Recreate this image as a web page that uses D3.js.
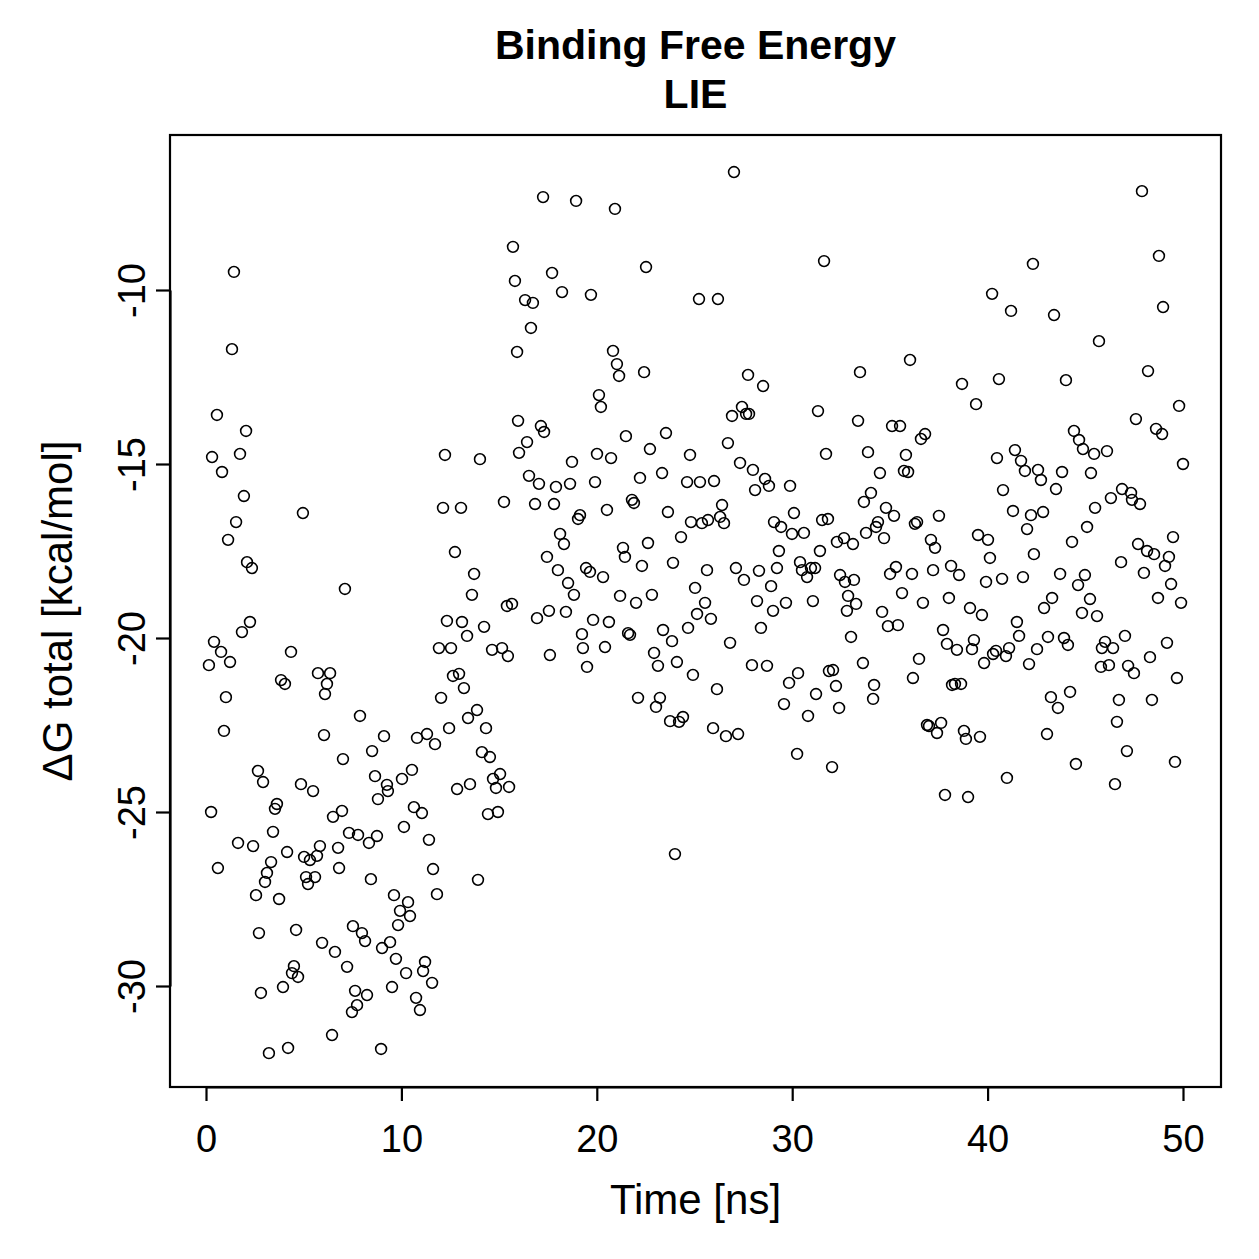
<!DOCTYPE html>
<html>
<head>
<meta charset="utf-8">
<script src="https://cdn.jsdelivr.net/npm/d3@7"></script>
<style>
  html, body { margin: 0; padding: 0; background: #fff; }
  svg { display: block; }
  text { font-family: "Liberation Sans", Arial, Helvetica, sans-serif; fill: #000; }
</style>
</head>
<body>
<svg id="chart" width="1259" height="1259"></svg>
<script>
// ---- data ----
const titleLines = ["Binding Free Energy", "LIE"];
const xLabel = "Time [ns]";
const yLabel = "\u0394G total [kcal/mol]";
const xTicks = [0, 10, 20, 30, 40, 50];
const yTicks = [-30, -25, -20, -15, -10];

const time = [
  0.15,0.26,0.31,0.41,0.56,0.61,0.77,0.82,0.92,1.02,
  1.13,1.23,1.33,1.43,1.54,1.64,1.74,1.84,1.94,2.05,
  2.10,2.25,2.35,2.41,2.56,2.66,2.71,2.81,2.92,3.02,
  3.12,3.22,3.33,3.43,3.53,3.63,3.74,3.84,3.94,4.04,
  4.15,4.20,4.35,4.40,4.50,4.61,4.71,4.86,4.96,5.02,
  5.12,5.22,5.32,5.48,5.58,5.68,5.73,5.83,5.94,6.04,
  6.09,6.19,6.35,6.45,6.50,6.60,6.76,6.81,6.96,7.01,
  7.11,7.22,7.32,7.47,7.52,7.63,7.73,7.78,7.88,
  7.98,8.14,8.24,8.34,8.44,8.50,8.65,8.75,8.80,8.96,
  9.01,9.11,9.26,9.31,9.42,9.52,9.62,9.72,9.83,9.93,
  10.03,10.13,10.24,10.34,10.44,10.54,10.64,10.75,10.80,10.95,
  11.05,11.11,11.21,11.31,11.41,11.57,11.62,11.72,11.82,11.92,
  12.03,12.13,12.23,12.33,12.44,12.54,12.64,12.74,12.85,12.95,
  13.05,13.10,13.20,13.36,13.41,13.51,13.61,13.72,13.87,13.92,
  14.02,14.12,14.23,14.33,14.43,14.53,14.64,14.69,14.84,14.94,
  15.05,15.15,15.25,15.40,15.45,15.51,15.66,15.71,15.81,15.92,
  15.97,16.02,
  16.33,16.43,16.53,16.63,16.73,16.84,16.94,17.04,17.14,17.25,
  17.30,17.45,17.55,17.60,17.71,17.81,17.91,18.01,18.12,18.22,
  18.32,18.42,18.53,18.63,18.73,18.83,18.94,19.04,19.14,19.24,
  19.29,19.45,19.50,19.65,19.70,19.81,19.91,20.01,20.11,20.21,
  20.32,20.42,20.52,20.62,20.73,20.83,20.93,21.03,21.14,21.19,
  21.34,21.44,21.49,21.60,21.70,21.80,21.90,22.01,22.11,22.21,
  22.31,22.42,22.52,22.62,22.72,22.82,22.93,23.03,23.13,23.23,
  23.34,23.39,23.54,23.64,23.75,23.85,23.90,24.00,24.10,24.21,
  24.31,24.41,24.62,24.67,24.77,24.82,24.92,25.03,25.13,25.23,
  25.28,25.38,25.54,25.64,25.69,25.84,25.95,26.00,26.15,26.20,
  26.31,26.41,26.51,26.61,26.71,26.82,26.92,27.02,27.12,27.23,
  27.33,27.43,27.53,27.64,27.74,27.79,27.94,27.99,28.10,28.20,
  28.30,28.40,28.51,28.61,28.71,28.81,28.92,29.02,29.07,29.22,
  29.32,29.43,29.58,29.68,29.84,29.89,29.99,30.09,30.25,30.30,
  30.40,30.50,30.60,30.76,30.81,30.96,31.06,31.17,31.22,31.32,
  31.42,31.53,31.63,31.73,31.83,31.88,32.04,32.09,32.24,32.29,
  32.40,32.45,32.65,32.70,32.80,32.86,33.01,33.11,33.16,
  33.27,33.37,33.47,
  33.62,33.67,33.78,33.88,34.03,34.14,34.19,34.29,34.39,34.49,
  34.60,34.70,34.80,34.90,35.01,35.11,35.21,35.31,35.41,35.52,
  35.62,35.72,35.82,35.93,36.03,36.13,36.18,36.28,36.39,36.49,
  36.59,36.69,36.80,36.90,37.00,37.10,37.21,37.31,37.41,37.51,
  37.62,37.72,37.82,37.92,38.02,38.13,38.18,38.33,38.43,38.54,
  38.64,38.69,38.79,38.89,39.00,39.10,39.20,39.30,39.41,39.51,
  39.61,39.71,39.82,39.92,40.02,40.12,40.23,40.28,40.43,40.48,
  40.58,40.74,40.79,40.94,40.99,41.10,41.20,41.30,41.40,
  41.50,41.61,41.71,
  41.81,41.91,42.02,42.12,42.22,42.32,42.37,42.53,42.58,42.73,
  42.84,42.89,43.04,43.09,43.24,43.30,43.40,43.50,43.60,43.71,
  43.81,43.91,44.01,44.11,44.22,44.32,44.42,44.52,44.63,44.68,
  44.83,44.88,44.98,45.09,45.24,45.29,45.45,45.50,45.60,45.70,
  45.80,45.85,46.01,46.11,46.21,46.31,46.42,46.52,46.62,46.72,
  46.83,46.88,47.03,47.13,47.19,47.34,47.39,47.49,47.59,47.70,
  47.80,47.90,48.00,48.16,48.21,48.31,48.41,48.52,48.62,48.72,
  48.77,48.93,48.98,49.08,49.18,49.28,49.39,49.49,49.59,49.69,
  49.80,49.90,50.00
];

const dG = [
  -20.78,-25.00,-14.80,-20.11,-13.59,-26.61,-20.40,-15.23,-22.67,-21.70,
  -17.18,-20.69,-11.70,-9.48,-16.67,-25.89,-14.71,-19.83,-15.92,-14.05,
  -17.82,-19.54,-17.99,-25.98,-27.39,-23.82,-28.48,-30.20,-24.14,-27.01,
  -26.75,-31.93,-26.44,-25.57,-24.91,-24.77,-27.50,-21.21,-30.03,-21.32,
  -26.15,-31.78,-20.40,-29.63,-29.43,-28.39,-29.74,-24.20,-16.41,-26.29,
  -26.87,-27.07,-26.38,-24.40,-26.87,-26.26,-21.01,-25.98,-28.76,-22.79,
  -21.61,-21.32,-21.01,-31.41,-25.14,-29.02,-26.03,-26.61,-24.97,-23.48,
  -18.59,-29.45,-25.60,-30.75,-28.28,-30.14,-30.55,-25.66,-22.24,
  -28.48,-28.71,-30.26,-25.89,-26.93,-23.25,-23.97,-25.69,-24.63,-31.81,
  -28.91,-22.82,-24.22,-24.40,-28.74,-30.03,-27.39,-29.22,-28.25,-27.84,
  -24.05,-25.43,-29.63,-27.59,-27.99,-23.79,-24.86,-30.34,-22.87,-30.69,
  -25.03,-29.57,-29.31,-22.76,-25.80,-29.91,-26.64,-23.05,-27.36,-20.29,
  -21.72,-16.26,-14.74,-19.51,-22.59,-20.29,-21.09,-17.53,-24.34,-21.03,
  -16.26,-19.54,-21.44,-19.94,-22.30,-24.20,-18.76,-18.16,-22.07,-26.95,
  -14.86,-23.28,-19.68,-22.59,-25.06,-23.42,-20.34,-24.05,-24.31,-25.00,
  -23.91,-20.29,-16.09,-19.08,-20.52,-24.28,-19.02,-8.76,-9.74,-11.78,
  -13.76,-14.68,
  -10.29,-14.37,-15.34,-11.09,-10.37,-16.15,-19.43,-15.57,-13.91,-7.33,
  -14.08,-17.67,-19.22,-20.49,-9.51,-16.15,-15.66,-18.05,-17.01,-10.06,
  -17.30,-19.25,-18.42,-15.57,-14.94,-18.76,-7.44,-16.58,-16.47,-19.89,
  -20.29,-17.99,-20.83,-18.10,-10.14,-19.48,-15.52,-14.71,-13.02,-13.36,
  -18.25,-20.26,-16.32,-19.54,-14.83,-11.75,-7.67,-12.13,-12.47,-18.79,
  -17.41,-17.67,-14.20,-19.86,-19.91,-16.03,-16.12,-18.99,-21.72,-15.40,
  -17.93,-12.36,-9.34,-17.27,-14.57,-18.76,-20.43,-21.98,-20.80,-21.72,
  -15.26,-19.77,-14.11,-16.38,-22.39,-20.09,-17.84,-26.21,-20.69,-22.41,
  -17.10,-22.27,-15.52,-19.71,-14.74,-16.67,-21.06,-18.56,-19.31,-10.26,
  -15.52,-16.70,-18.99,-18.05,-16.61,-19.45,-22.59,-15.49,-21.47,-10.26,
  -16.52,-16.18,-16.70,-22.82,-14.40,-20.14,-13.62,-6.61,-17.99,-22.76,
  -14.97,-13.36,-18.33,-13.56,-12.44,-13.56,-20.78,-15.17,-15.75,-18.94,
  -18.07,-19.71,-12.76,-15.43,-20.80,-15.63,-18.51,-19.22,-16.67,-17.99,
  -17.50,-16.81,-21.90,-18.99,-21.29,-15.63,-17.01,-16.41,-23.33,-21.01,
  -17.82,-18.05,-16.98,-18.25,-22.24,-17.99,-18.94,-17.99,-21.61,-13.48,
  -17.50,-16.61,-9.17,-14.71,-16.58,-20.95,-23.71,-20.92,-21.38,-17.24,
  -22.01,-18.19,-17.13,-18.39,-19.22,-18.79,-19.97,-17.30,-18.33,
  -19.02,-13.76,-12.36,
  -20.72,-16.09,-16.98,-14.66,-15.83,-21.75,-21.35,-16.81,-16.67,-15.26,
  -19.25,-17.13,-16.26,-19.66,-18.16,-13.91,-16.49,-17.96,-19.63,-13.91,
  -18.71,-15.20,-14.74,-15.23,-12.01,-18.16,-21.15,-16.72,-16.67,-20.60,
  -14.28,-18.99,-14.14,-22.50,-22.53,-17.18,-18.05,-17.41,-22.73,-16.49,
  -22.44,-19.77,-24.51,-20.17,-18.85,-17.93,-21.35,-21.32,-20.34,-18.19,
  -21.32,-12.70,-22.67,-22.90,-24.57,-19.14,-20.32,-20.06,-13.28,-17.04,
  -22.84,-19.34,-20.72,-18.39,-17.18,-17.70,-10.11,-20.46,-20.37,-14.83,
  -12.56,-18.30,-15.75,-20.52,-24.02,-20.29,-10.60,-16.35,-14.60,
  -19.54,-19.94,-14.91,
  -18.25,-15.20,-16.87,-20.75,-16.47,-9.25,-17.59,-20.32,-15.17,-15.46,
  -16.38,-19.14,-22.76,-19.97,-21.70,-18.85,-10.72,-15.72,-22.01,-18.16,
  -15.23,-20.00,-12.59,-20.20,-21.55,-17.24,-14.05,-23.62,-18.48,-14.31,
  -19.28,-14.57,-18.19,-16.81,-18.88,-15.26,-14.71,-16.26,-19.37,-11.47,
  -20.83,-20.29,-20.11,-14.63,-20.78,-15.98,-20.29,-24.20,-22.41,-21.78,
  -17.82,-15.72,-19.94,-23.25,-20.80,-15.83,-16.03,-21.01,-13.71,-17.30,
  -16.15,-7.16,-18.13,-17.50,-12.33,-20.55,-21.78,-17.59,-13.99,-18.85,
  -9.02,-14.14,-10.49,-17.93,-20.14,-17.67,-18.45,-17.10,-23.56,-21.15,
  -13.33,-18.99,-15.00
];

// ---- layout ----
const box = { left: 170, right: 1221, top: 135, bottom: 1087 };
const svg = d3.select("#chart");
const fontFam = "'Liberation Sans', Arial, Helvetica, sans-serif";

const x = d3.scaleLinear().domain([0, 50]).range([206, 1183]);
const y = d3.scaleLinear().domain([-30, -10]).range([986, 290]);

const points = d3.zip(time, dG).filter(d => d[0] != null && d[1] != null);

// points
svg.append("g")
  .selectAll("circle")
  .data(points)
  .join("circle")
  .attr("cx", d => x(d[0]))
  .attr("cy", d => y(d[1]))
  .attr("r", 5.4)
  .attr("fill", "none")
  .attr("stroke", "#000")
  .attr("stroke-width", 1.6);

// box
svg.append("rect")
  .attr("x", box.left).attr("y", box.top)
  .attr("width", box.right - box.left).attr("height", box.bottom - box.top)
  .attr("fill", "none").attr("stroke", "#000").attr("stroke-width", 2.2);

// x axis
const xAxis = d3.axisBottom(x).tickValues(xTicks).tickSize(14).tickSizeOuter(0)
  .tickFormat(d => String(d));
const gx = svg.append("g").attr("transform", `translate(0,${box.bottom})`).call(xAxis);
gx.select(".domain").attr("stroke", "#000").attr("stroke-width", 2.2);
gx.selectAll(".tick line").attr("stroke", "#000").attr("stroke-width", 2.2);
gx.selectAll(".tick text")
  .attr("y", 65).attr("dy", null)
  .style("font-size", "38px").style("font-family", fontFam)
  .attr("fill", "#000");

// y axis
const yAxis = d3.axisLeft(y).tickValues(yTicks).tickSize(14).tickSizeOuter(0)
  .tickFormat(d => String(d));
const gy = svg.append("g").attr("transform", `translate(${box.left},0)`).call(yAxis);
gy.select(".domain").attr("stroke", "#000").attr("stroke-width", 2.2);
gy.selectAll(".tick line").attr("stroke", "#000").attr("stroke-width", 2.2);
gy.selectAll(".tick text")
  .attr("x", null).attr("dy", null)
  .attr("text-anchor", "middle")
  .attr("transform", "translate(-25,0) rotate(-90)")
  .style("font-size", "38px").style("font-family", fontFam)
  .attr("fill", "#000");

// titles
const cx = (box.left + box.right) / 2;
svg.append("text").attr("x", cx).attr("y", 59).attr("text-anchor", "middle")
  .style("font-size", "41px").style("font-weight", "bold").text(titleLines[0]);
svg.append("text").attr("x", cx).attr("y", 108).attr("text-anchor", "middle")
  .style("font-size", "41px").style("font-weight", "bold").text(titleLines[1]);

// axis labels
svg.append("text").attr("x", cx).attr("y", 1214).attr("text-anchor", "middle")
  .style("font-size", "42px").text(xLabel);
const cy = (box.top + box.bottom) / 2;
svg.append("text").attr("transform", `translate(72,${cy}) rotate(-90)`)
  .attr("text-anchor", "middle").style("font-size", "42px").text(yLabel);
</script>
</body>
</html>
